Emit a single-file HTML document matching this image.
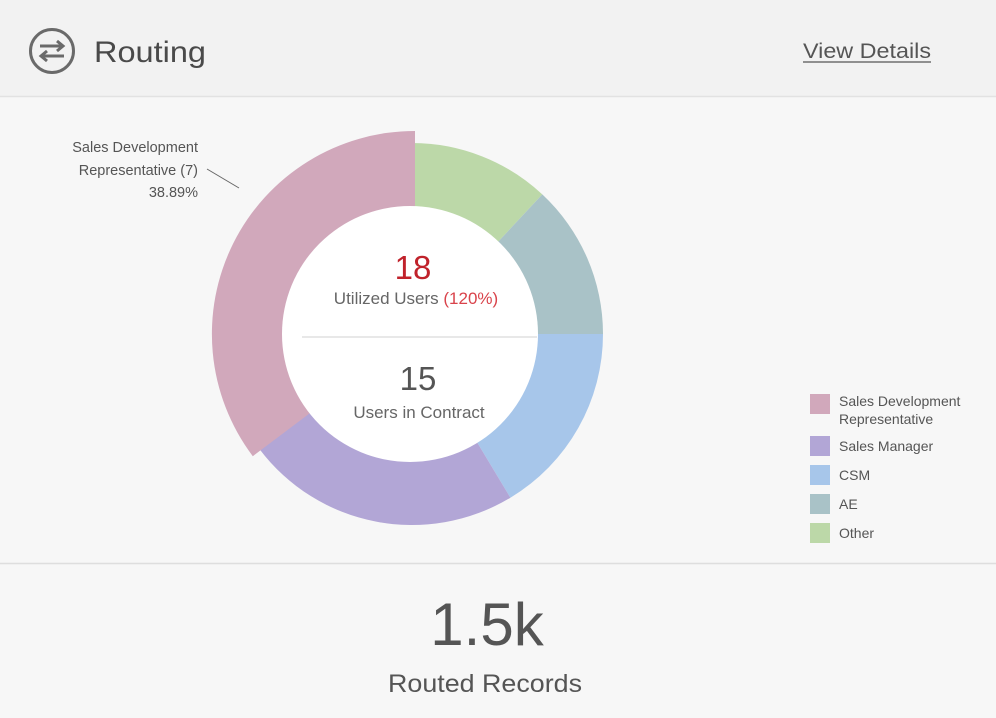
<!DOCTYPE html>
<html><head><meta charset="utf-8"><style>
html,body{margin:0;padding:0;}
body{width:996px;height:713px;overflow:hidden;background:#f7f7f7;font-family:"Liberation Sans",sans-serif;}
</style></head><body>
<svg width="996" height="713" viewBox="0 0 996 713" xmlns="http://www.w3.org/2000/svg" font-family="Liberation Sans, sans-serif">
<rect x="0" y="0" width="996" height="96" fill="#f2f2f2"/>
<line x1="0" y1="96.5" x2="996" y2="96.5" stroke="#e2e2e2" stroke-width="1.5"/>
<line x1="0" y1="563.5" x2="996" y2="563.5" stroke="#dedede" stroke-width="1.5"/>
<circle cx="52" cy="51" r="21.5" fill="none" stroke="#6a6a6a" stroke-width="3"/>
<path d="M40 46 H63 M57 41 L63 46 L57 51" fill="none" stroke="#6a6a6a" stroke-width="3"/>
<path d="M64 56 H41 M47 51 L41 56 L47 61" fill="none" stroke="#6a6a6a" stroke-width="3"/>
<text x="94" y="62" font-size="30" fill="#4a4a4a" textLength="112" lengthAdjust="spacingAndGlyphs">Routing</text>
<text x="803" y="58" font-size="21" fill="#555" textLength="128" lengthAdjust="spacingAndGlyphs">View Details</text>
<line x1="803" y1="62" x2="931" y2="62" stroke="#555" stroke-width="1.3"/>
<path d="M412 334 L412 143 A191 191 0 0 1 542.3 194.4 Z" fill="#bcd8a8"/>
<path d="M412 334 L542.3 194.4 A191 191 0 0 1 603 334 Z" fill="#a9c2c7"/>
<path d="M412 334 L603 334 A191 191 0 0 1 510.4 497.7 Z" fill="#a7c6ea"/>
<path d="M412 334 L510.4 497.7 A191 191 0 0 1 259.4 449 Z" fill="#b2a6d6"/>
<path d="M412 334 L249.8 456.2 A203 203 0 0 1 412 131 Z" fill="#d1a8bb" transform="translate(3,0)"/>
<circle cx="410" cy="334" r="128" fill="#fff"/>
<line x1="302" y1="337" x2="537" y2="337" stroke="#e0e0e0" stroke-width="1.5"/>
<text x="413" y="279" font-size="33" fill="#c0222b" text-anchor="middle">18</text>
<text x="416" y="304" font-size="17" fill="#666" text-anchor="middle">Utilized Users <tspan fill="#d9434b">(120%)</tspan></text>
<text x="418" y="390" font-size="33" fill="#555" text-anchor="middle">15</text>
<text x="419" y="418" font-size="17" fill="#666" text-anchor="middle">Users in Contract</text>
<text x="198" y="152" font-size="14.5" fill="#555" text-anchor="end">Sales Development</text>
<text x="198" y="175" font-size="14.5" fill="#555" text-anchor="end">Representative (7)</text>
<text x="198" y="197" font-size="14.5" fill="#555" text-anchor="end">38.89%</text>
<line x1="207" y1="169" x2="239" y2="188" stroke="#666" stroke-width="1"/>
<rect x="810" y="394" width="20" height="20" fill="#d1a8bb"/>
<text x="839" y="406" font-size="14" fill="#555">Sales Development</text>
<text x="839" y="424" font-size="14" fill="#555">Representative</text>
<rect x="810" y="436" width="20" height="20" fill="#b2a6d6"/>
<text x="839" y="451" font-size="14" fill="#555">Sales Manager</text>
<rect x="810" y="465" width="20" height="20" fill="#a7c6ea"/>
<text x="839" y="480" font-size="14" fill="#555">CSM</text>
<rect x="810" y="494" width="20" height="20" fill="#a9c2c7"/>
<text x="839" y="509" font-size="14" fill="#555">AE</text>
<rect x="810" y="523" width="20" height="20" fill="#bcd8a8"/>
<text x="839" y="538" font-size="14" fill="#555">Other</text>
<text x="487" y="645" font-size="60" fill="#555" text-anchor="middle">1.5k</text>
<text x="388" y="692" font-size="25" fill="#555" textLength="194" lengthAdjust="spacingAndGlyphs">Routed Records</text>
</svg>
</body></html>
